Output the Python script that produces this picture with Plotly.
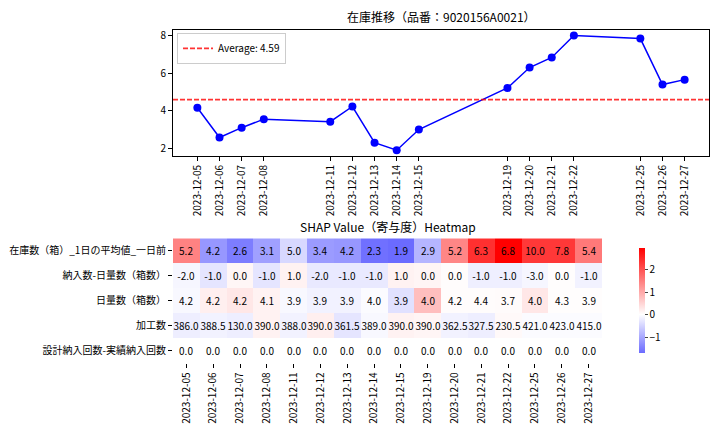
import numpy as np
import pandas as pd
import plotly.graph_objects as go

# ---------------- data ----------------
dates = ["2023-12-05", "2023-12-06", "2023-12-07", "2023-12-08", "2023-12-11",
         "2023-12-12", "2023-12-13", "2023-12-14", "2023-12-15", "2023-12-19",
         "2023-12-20", "2023-12-21", "2023-12-22", "2023-12-25", "2023-12-26",
         "2023-12-27"]
stock = [4.16, 2.59, 3.11, 3.56, 3.43, 4.23, 2.32, 1.92, 3.01, 5.21,
         6.29, 6.82, 7.98, 7.82, 5.39, 5.65]

features = ["在庫数（箱）_1日の平均値_一日前", "納入数-日量数（箱数）", "日量数（箱数）",
            "加工数", "設計納入回数-実績納入回数"]

feat_stock_lag = [5.2, 4.2, 2.6, 3.1, 5.0, 3.4, 4.2, 2.3, 1.9, 2.9, 5.2, 6.3, 6.8, 10.0, 7.8, 5.4]
feat_in_minus_daily = [-2.0, -1.0, 0.0, -1.0, 1.0, -2.0, -1.0, -1.0, 1.0, 0.0, 0.0, -1.0, -1.0, -3.0, 0.0, -1.0]
feat_daily = [4.2, 4.2, 4.2, 4.1, 3.9, 3.9, 3.9, 4.0, 3.9, 4.0, 4.2, 4.4, 3.7, 4.0, 4.3, 3.9]
feat_process = [386.0, 388.5, 130.0, 390.0, 388.0, 390.0, 361.5, 389.0, 390.0, 390.0,
                362.5, 327.5, 230.5, 421.0, 423.0, 415.0]
feat_delivery_diff = [0.0] * 16

shap_stock_lag = [1.45, -1.2, -1.5, -1.1, -0.45, -1.15, -1.2, -1.65, -1.71, -0.85,
                  1.4, 2.4, 2.95, 2.3, 2.3, 1.55]
shap_in_minus_daily = [-0.1, -0.3, 0.1, -0.3, 0.15, -0.25, -0.25, -0.25, 0.15, 0.12,
                       0.03, -0.18, -0.18, -0.1, 0.02, -0.15]
shap_daily = [-0.08, 0.18, 0.28, 0.15, -0.08, -0.15, -0.15, -0.05, -0.35, 0.75,
              0.03, 0.03, 0.05, 0.28, 0.02, 0.02]
shap_process = [-0.2, -0.15, -0.2, 0.15, -0.15, 0.18, -0.3, -0.08, 0.15, 0.12,
                -0.15, -0.2, 0.07, -0.05, -0.05, -0.05]
shap_delivery_diff = [0.0] * 16

title_top = "在庫推移（品番：9020156A0021）"
title_heat = "SHAP Value（寄与度）Heatmap"

# ---------------- figure ----------------
FONT = "Noto Sans CJK JP"
W, H = 720, 432

def px_x(p):
    return p / W

def px_y(p):
    return 1 - p / H

fig = go.Figure()

dt = pd.to_datetime(dates)
avg = float(np.mean(stock))

fig.add_trace(go.Scatter(
    x=dt, y=stock, mode="lines+markers",
    line=dict(color="blue", width=1.5),
    marker=dict(color="blue", size=8),
    showlegend=False, xaxis="x", yaxis="y"))

fig.add_shape(type="line", xref="x domain", yref="y", x0=0, x1=1, y0=avg, y1=avg,
              line=dict(color="rgba(255,0,0,0.8)", dash="5px,2px", width=1.8),
              showlegend=True, name=f"Average: {avg:.2f}")

# heatmap
z = [shap_stock_lag, shap_in_minus_daily, shap_daily, shap_process, shap_delivery_diff]
vals = [feat_stock_lag, feat_in_minus_daily, feat_daily, feat_process, feat_delivery_diff]
text = [[f"{v:.1f}" for v in row] for row in vals]
zarr = np.array(z)
zmin, zmax = float(zarr.min()), float(zarr.max())
vr = max(abs(zmin), abs(zmax))

def bwr(f):
    if f <= 0.5:
        c = 2 * f
        return f"rgb({int(round(c*255))},{int(round(c*255))},255)"
    c = 2 * (1 - f)
    return f"rgb(255,{int(round(c*255))},{int(round(c*255))})"

lo_f = 0.5 + zmin / (2 * vr)
hi_f = 0.5 + zmax / (2 * vr)
mid = (0 - zmin) / (zmax - zmin)
colorscale = [[0, bwr(lo_f)], [mid, "rgb(255,255,255)"], [1, bwr(hi_f)]]

fig.add_trace(go.Heatmap(
    z=z, x=dates, y=features, text=text, texttemplate="%{text}",
    textfont=dict(family=FONT, size=10, color="black"),
    colorscale=colorscale, zmin=zmin, zmax=zmax,
    xaxis="x2", yaxis="y2",
    colorbar=dict(x=px_x(629), xanchor="left", thickness=6,
                  y=px_y(237), yanchor="top", len=126 / H,
                  outlinewidth=0, ticks="outside", ticklen=3,
                  tickvals=[-1, 0, 1, 2],
                  tickfont=dict(family=FONT, size=10, color="black")),
    hoverongaps=False))

span = max(stock) - min(stock)
pad = pd.Timedelta(days=(dt.max() - dt.min()).days * 0.05)

fig.update_layout(
    width=W, height=H, margin=dict(l=0, r=0, t=0, b=0),
    paper_bgcolor="white", plot_bgcolor="white",
    font=dict(family=FONT, size=10, color="black"),
    xaxis=dict(domain=[px_x(173), px_x(709)], anchor="y", type="date",
               range=[dt.min() - pad, dt.max() + pad],
               tickvals=dt, ticktext=dates, tickangle=-90,
               ticks="outside", ticklen=4, tickcolor="black",
               showline=True, mirror=True, linecolor="black", linewidth=1,
               showgrid=False, zeroline=False,
               tickfont=dict(family=FONT, size=10)),
    yaxis=dict(domain=[px_y(154), px_y(27)], anchor="x",
               range=[min(stock) - 0.05 * span, max(stock) + 0.05 * span],
               tickvals=[2, 4, 6, 8],
               ticks="outside", ticklen=4, tickcolor="black",
               showline=True, mirror=True, linecolor="black", linewidth=1,
               showgrid=False, zeroline=False,
               tickfont=dict(family=FONT, size=10)),
    xaxis2=dict(domain=[px_x(173), px_x(602)], anchor="y2", type="category",
                tickangle=-90, ticks="outside", ticklen=4, tickcolor="black",
                showline=False, showgrid=False, zeroline=False,
                tickfont=dict(family=FONT, size=10)),
    yaxis2=dict(domain=[px_y(363), px_y(237)], anchor="x2", type="category",
                autorange="reversed", ticks="outside", ticklen=4, tickcolor="black",
                showline=False, showgrid=False, zeroline=False,
                tickfont=dict(family=FONT, size=10)),
    legend=dict(x=px_x(177), y=px_y(30), xanchor="left", yanchor="top",
                bgcolor="white", bordercolor="#cccccc", borderwidth=1,
                font=dict(family=FONT, size=10), itemwidth=30),
    annotations=[
        dict(text=title_top, xref="paper", yref="paper",
             x=(px_x(173) + px_x(709)) / 2, y=px_y(27), xanchor="center",
             yanchor="bottom", yshift=3, showarrow=False,
             font=dict(family=FONT, size=12, color="black")),
        dict(text=title_heat, xref="paper", yref="paper",
             x=(px_x(173) + px_x(602)) / 2, y=px_y(237), xanchor="center",
             yanchor="bottom", yshift=1, showarrow=False,
             font=dict(family=FONT, size=12, color="black")),
    ],
)

fig.write_html("out.html")
